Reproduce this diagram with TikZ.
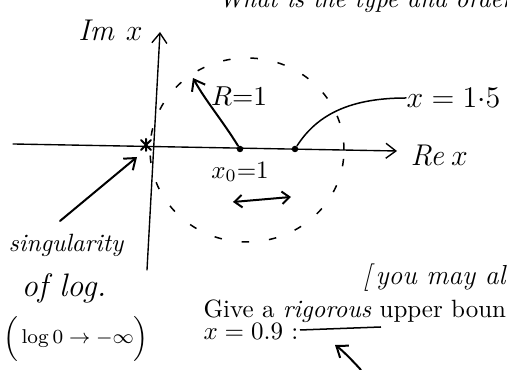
\documentclass[tikz,border=0pt]{standalone}
\usetikzlibrary{arrows.meta,calc,shapes.geometric}
\begin{document}
\begin{tikzpicture}[x=0.4pt,y=-0.4pt,
  hand/.style={line width=0.8pt, line cap=round, line join=round},
  axis/.style={line width=0.55pt, line cap=round},
  hw/.style={inner sep=0pt},
  pr/.style={inner sep=0pt},
  dot/.style={circle, fill=black, inner sep=0pt, minimum size=2.6pt},
  barb/.style={-{Straight Barb[length=4pt,width=6pt]}},
  circ/.style={line width=0.6pt, dash pattern=on 3pt off 8pt}
]
\useasboundingbox (0,0) rectangle (507,370);
\clip (0,0) rectangle (507,370);

% title (cut at top, as in the scan)
\node[pr, anchor=base west] (title) at (218,8) {\itshape What is the type and order)};

% axes
\coordinate (imbot) at (147,270);
\coordinate (imtop) at (160,32);
\coordinate (relft) at (13,144);
\coordinate (rergt) at (397,151);
\draw[axis, barb] (imbot) -- (imtop);
\draw[axis, barb] (relft) -- (rergt);
\node[hw, anchor=east, font=\fontsize{12}{14}\selectfont] (imlab) at (143,30) {$\mathit{Im}\ x$};
\node[hw, anchor=west, font=\fontsize{13}{15}\selectfont] (relab) at (410,155) {$\mathit{Re}\,x$};

% singularity cross
\coordinate (sing) at (146,145);
\draw[hand] ($(sing)+(-5,-5)$) -- ($(sing)+(5,5)$) ($(sing)+(-5,5)$) -- ($(sing)+(5,-5)$) ($(sing)+(0,-6)$) -- ($(sing)+(0,6)$);

% points
\node[dot] (x0) at (240,149) {};
\node[dot] (x1) at (295,149) {};

% dashed circle of convergence
\node[circ, draw, ellipse, minimum width=77.6pt, minimum height=73.6pt, inner sep=0pt] (circle) at (247,150) {};

% radius arrow
\node[hw, font=\fontsize{11}{13}\selectfont] (rlab) at (239,96) {$R{=}1$};
\coordinate (rtip) at (193,78);
\draw[hand, barb] (x0) .. controls (222,120) and (205,100) .. (rtip);

% x = 1.5
\node[hw, anchor=west, font=\fontsize{12}{14}\selectfont] (x1lab) at (406,98) {$x = 1{\cdot}5$};
\draw[hand, line width=0.6pt] (x1) .. controls (315,118) and (345,98) .. (x1lab.west);

% x0 = 1
\node[hw, font=\fontsize{10}{12}\selectfont] (x0lab) at (240,172) {$x_0{=}1$};
\coordinate (dal) at (233,202);
\coordinate (dar) at (291,197);
\draw[hand, {Straight Barb[length=3pt,width=5pt]}-{Straight Barb[length=3pt,width=5pt]}] (dal) -- (dar);

% singularity label
\node[hw, font=\fontsize{10}{12}\selectfont\itshape] (s1) at (66,245) {singularity};
\node[hw, font=\fontsize{13}{15}\selectfont\itshape] (s2) at (64,288) {of log.};
\node[hw, font=\fontsize{8.5}{10}\selectfont] (s3) at (76,338) {$\Big(\log 0 \to -\infty\Big)$};
\coordinate (stail) at (60,221);
\coordinate (stip) at (137,157);
\draw[hand, barb] (stail) -- (stip);

% printed text
\node[hw, anchor=base east, font=\fontsize{11}{13}\selectfont\itshape] (youmay) at (506,285) {[\,you may al};
\node[pr, anchor=base west] (give) at (203,318) {Give a \textit{rigorous} upper boun};
\node[pr, anchor=base west] (xval) at (203,340) {$x = 0.9$ :};
\coordinate (bl) at (300,330);
\coordinate (br) at (381,327);
\draw[line width=0.6pt] (bl) -- (br);
\coordinate (atail) at (361,370);
\coordinate (ahead) at (335,345);
\draw[hand, barb] (atail) .. controls (352,360) and (342,350) .. (ahead);
\end{tikzpicture}
\end{document}
